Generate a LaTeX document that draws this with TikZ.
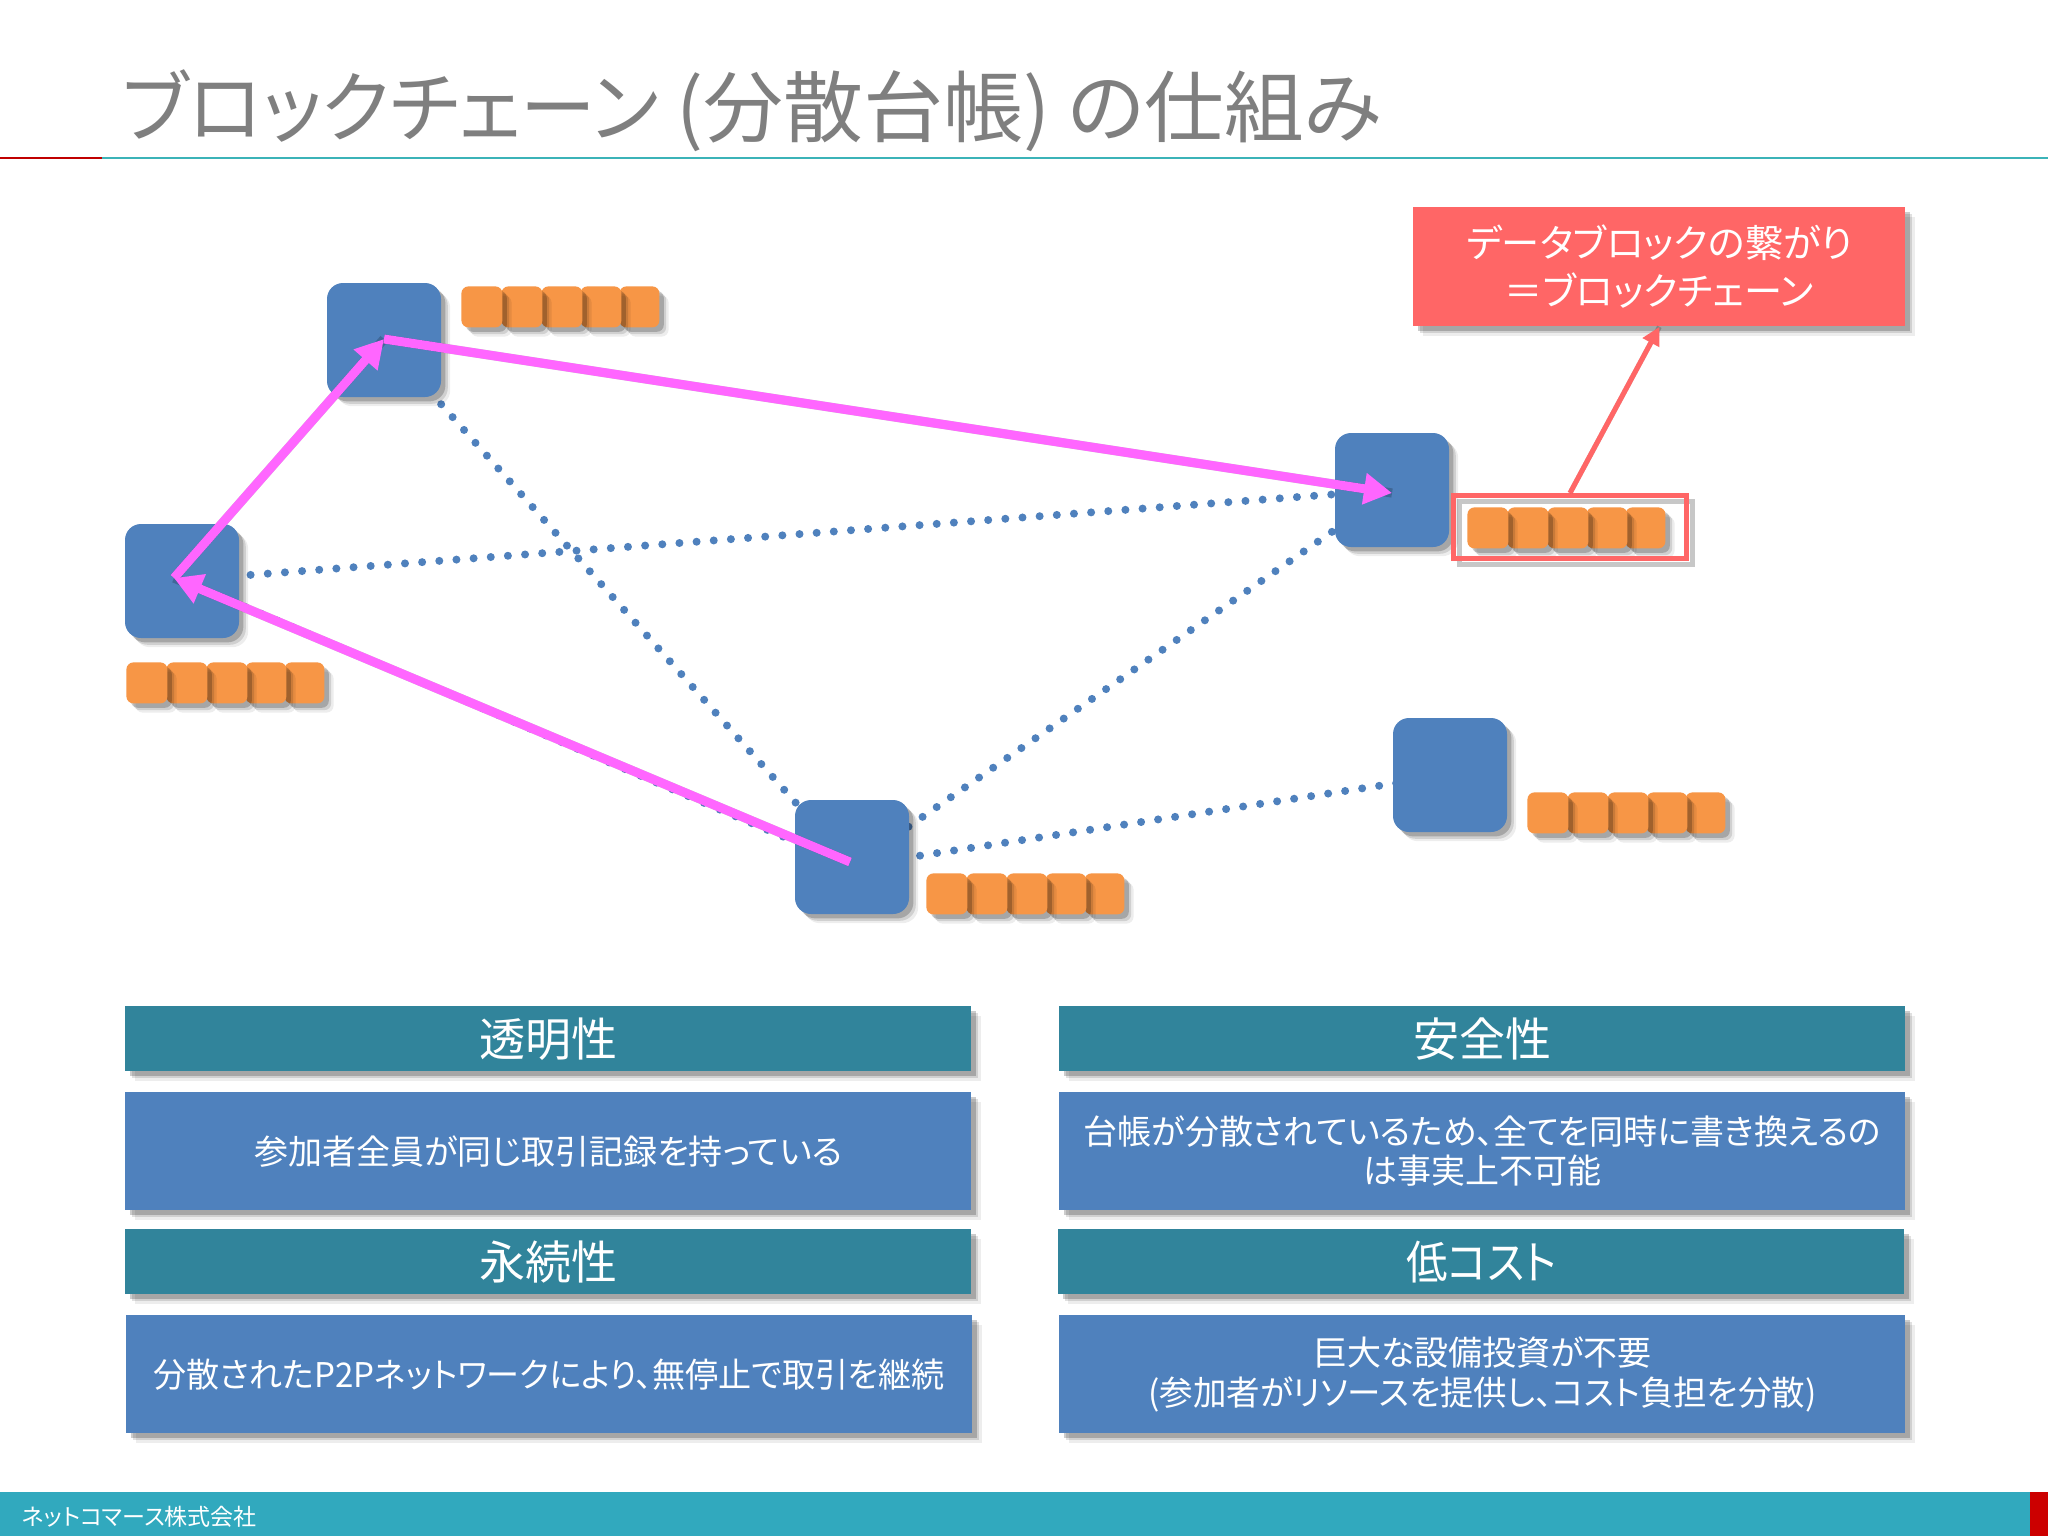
\documentclass[tikz,border=0pt]{standalone}
\usepackage{fontspec}
\setmainfont[RawFeature={+palt}]{Noto Sans CJK JP}
\usetikzlibrary{arrows.meta,shadows,calc}
\definecolor{nodeblue}{HTML}{4F81BD}
\definecolor{headteal}{HTML}{31849B}
\definecolor{blockor}{HTML}{F79646}
\definecolor{calloutred}{HTML}{FF6666}
\definecolor{linkpink}{HTML}{FF66FF}
\definecolor{titlegray}{HTML}{7F7F7F}
\definecolor{footteal}{HTML}{31A9BE}
\definecolor{ruleteal}{HTML}{3BB3B8}
\definecolor{rulered}{HTML}{C00000}
\definecolor{barred}{HTML}{CC0000}
\newcommand{\squeezed}[2]{{\addfontfeature{FakeStretch=#1}#2}}
\tikzset{
  softshadow/.style={
    drop shadow={shadow xshift=4.6pt,shadow yshift=-4.6pt,fill=black,opacity=.07},
    drop shadow={shadow xshift=3.4pt,shadow yshift=-3.4pt,fill=black,opacity=.12},
    drop shadow={shadow xshift=2.2pt,shadow yshift=-2.2pt,fill=black,opacity=.2}},
  peer/.style={rectangle,rounded corners=8pt,minimum width=57pt,minimum height=57pt,inner sep=0pt,fill=nodeblue,softshadow},
  blockcell/.style={rectangle,rounded corners=3.5pt,minimum width=20.5pt,minimum height=20.5pt,inner sep=0pt,fill=blockor,softshadow},
  dotlink/.style={draw=nodeblue,line width=4pt,line cap=round,dash pattern=on 0pt off 8.6pt},
  pinklink/.style={draw=linkpink,line width=4.5pt,-{Triangle[length=14pt,width=15pt]}},
  pinkshade/.style={draw=black,opacity=.2,line width=4.6pt,shift={(2.5pt,-2.5pt)}},
  headbox/.style={rectangle,minimum width=423pt,minimum height=32.5pt,inner sep=0pt,fill=headteal,text=white,font=\fontsize{23pt}{26pt}\selectfont,softshadow},
  bodybox/.style={rectangle,minimum width=423pt,minimum height=59pt,inner sep=0pt,fill=nodeblue,text=white,align=center,font=\fontsize{17pt}{19.6pt}\selectfont,softshadow},
}
\newcommand{\chain}[3]{%
  \node[blockcell,anchor=north west,minimum width=20pt] (#1e) at (#2+158,#3) {};
  \node[blockcell,anchor=north west] (#1d) at (#2+119,#3) {};
  \node[blockcell,anchor=north west] (#1c) at (#2+80,#3) {};
  \node[blockcell,anchor=north west] (#1b) at (#2+40,#3) {};
  \node[blockcell,anchor=north west] (#1a) at (#2,#3) {};
}
\begin{document}
\begin{tikzpicture}[x=0.5pt,y=-0.5pt]
\useasboundingbox (0,0) rectangle (2048,1536);
\fill[white] (0,0) rectangle (2048,1536);
% title
\node[anchor=west,inner sep=0pt,text=titlegray,font=\fontsize{39pt}{42pt}\selectfont] (title) at (122,111) {\squeezed{.97}{ブロックチェーン} \squeezed{1.025}{(分散台帳)} \squeezed{1.02}{の仕組み}};
\coordinate (ruleL) at (0,158);
\coordinate (ruleM) at (102,158);
\coordinate (ruleR) at (2048,158);
\draw[rulered,line width=1.4pt] (ruleL) -- (ruleM);
\draw[ruleteal,line width=1.2pt] (ruleM) -- (ruleR);
% hubs
\coordinate (hubA) at (384,340);
\coordinate (hubB) at (182,580);
\coordinate (hubC) at (1392,490);
\coordinate (hubD) at (852,866);
\coordinate (hubE) at (1450,775);
\coordinate (tipB) at (174,578);
\coordinate (tipA) at (384,339);
\coordinate (tipC) at (1392,493);
\coordinate (tailD) at (850,862);
% dotted links
\draw[dotlink] (hubA) -- (hubD);
\draw[dotlink] (hubB) -- (hubC);
\draw[dotlink] (hubB) -- (hubD);
\draw[dotlink] (hubD) -- (hubC);
\draw[dotlink] (hubD) -- (hubE);
% peers
\node[peer] (peerA) at (384,340) {};
\node[peer] (peerB) at (182,581) {};
\node[peer] (peerC) at (1392,490) {};
\node[peer] (peerD) at (852,857) {};
\node[peer] (peerE) at (1450,775) {};
% chains
\chain{ca}{461}{286}
\chain{cb}{126}{662}
\chain{cc}{1467}{507}
\chain{cd}{926}{873}
\chain{ce}{1527}{792}
% frame + callout
\node[rectangle,draw=calloutred,line width=2.5pt,minimum width=116.5pt,minimum height=31.5pt,inner sep=0pt,anchor=north west,
  drop shadow={shadow xshift=3pt,shadow yshift=-3pt,draw=black,fill=none,opacity=.22}] (frame) at (1451,493) {};
\node[rectangle,fill=calloutred,minimum width=246pt,minimum height=59.5pt,inner sep=0pt,anchor=north west,text=white,align=center,
  font=\fontsize{19.1pt}{24pt}\selectfont,softshadow] (callout) at (1413,207) {データブロックの繋がり\\＝ブロックチェーン};
\draw[draw=black,opacity=.2,line width=2.5pt,shift={(2.5pt,-2.5pt)}] (frame.north) -- (callout.south);
\draw[calloutred,line width=2.5pt,-{Triangle[length=9pt,width=9pt]}] (frame.north) -- (callout.south);
% pink links
\draw[pinkshade] (tailD) -- (tipB);
\draw[pinkshade] (tipB) -- (tipA);
\draw[pinkshade] (tipA) -- (tipC);
\draw[pinklink] (tailD) -- (tipB);
\draw[pinklink] (tipB) -- (tipA);
\draw[pinklink] (tipA) -- (tipC);
% boxes
\node[headbox,anchor=north west] (h1) at (125,1006) {透明性};
\node[bodybox,anchor=north west] (b1) at (125,1092) {参加者全員が同じ取引記録を持っている};
\node[headbox,anchor=north west] (h2) at (1059,1006) {安全性};
\node[bodybox,anchor=north west] (b2) at (1059,1092) {台帳が分散されているため、全てを同時に書き換えるの\\は事実上不可能};
\node[headbox,anchor=north west] (h3) at (125,1229) {永続性};
\node[bodybox,anchor=north west] (b3) at (126,1315) {\squeezed{.973}{分散されたP2Pネットワークにより、無停止で取引を継続}};
\node[headbox,anchor=north west] (h4) at (1058,1229) {\squeezed{.9}{低コスト}};
\node[bodybox,anchor=north west] (b4) at (1059,1315) {巨大な設備投資が不要\\\squeezed{.985}{(参加者がリソースを提供し、コスト負担を分散)}};
% footer
\fill[footteal] (0,1492) rectangle (2048,1536);
\fill[barred] (2030,1492) rectangle (2048,1536);
\node[anchor=west,inner sep=0pt,text=white,font=\fontsize{11.5pt}{12pt}\selectfont] (foot) at (22,1517) {ネットコマース株式会社};
\end{tikzpicture}
\end{document}
